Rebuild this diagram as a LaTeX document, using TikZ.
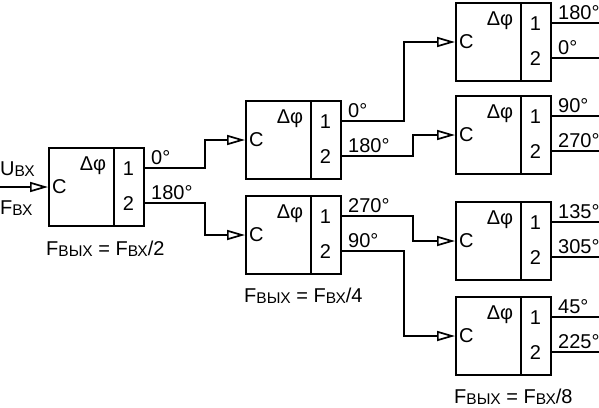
\documentclass[tikz,border=0pt]{standalone}
\usepackage{fontspec}
\setmainfont{Liberation Sans}
\usetikzlibrary{arrows.meta,calc}
\newcommand\subtx[1]{\raisebox{-1.8pt}{\fontsize{15.5}{15.5}\selectfont #1}}
\tikzset{
  blk/.style={draw, line width=2pt, minimum width=95pt, minimum height=78pt, inner sep=0pt, anchor=north west},
  divline/.style={line width=1.2pt},
  conn/.style={line width=1.7pt},
  arr/.style={-{Triangle[open, length=18pt, width=10pt]}},
  txt/.style={inner sep=0pt, font=\fontsize{20}{20}\selectfont},
}
\newcommand\phblock[3]{%
  \node[blk] (#1) at (#2,#3) {};
  \draw[divline] ($(#1.north west)+(66,0)$) -- ($(#1.south west)+(66,0)$);
  \coordinate (#1-in) at ($(#1.north west)+(0,40)$);
  \coordinate (#1-o1) at ($(#1.north east)+(0,21)$);
  \coordinate (#1-o2) at ($(#1.north east)+(0,56)$);
  \node[txt, anchor=west] (#1-c) at ($(#1-in)+(4,0)$) {C};
  \node[txt] (#1-dphi) at ($(#1.north west)+(45,19)$) {Δφ};
  \node[txt] (#1-n1) at ($(#1.north west)+(80.5,22)$) {1};
  \node[txt] (#1-n2) at ($(#1.north west)+(80.5,57)$) {2};
}
\newcommand\olabel[3]{%
  \node[txt, anchor=base west] (#1) at ($(#2)+(6,-4)$) {#3};
}
\begin{document}
\begin{tikzpicture}[x=1pt,y=-1pt]
\useasboundingbox (0,0) rectangle (599,407);
\phblock{b1}{48}{147}
\phblock{b2}{245}{100}
\phblock{b3}{245}{195}
\phblock{b4}{455}{2}
\phblock{b5}{455}{95}
\phblock{b6}{455}{201}
\phblock{b7}{455}{296}
% input
\coordinate (src) at ($(b1-in)+(-48,0)$);
\draw[conn, arr] (src) -- (b1-in);
\node[txt, anchor=base west] (ubx) at (0,175) {U\subtx{ВХ}};
\node[txt, anchor=base west] (fbx) at (0,214) {F\subtx{ВХ}};
% connectors
\draw[conn, arr] (b1-o1) -| ($(b2-in)+(-40,0)$) -- (b2-in);
\draw[conn, arr] (b1-o2) -| ($(b3-in)+(-40,0)$) -- (b3-in);
\draw[conn, arr] (b2-o1) -| ($(b4-in)+(-51,0)$) -- (b4-in);
\draw[conn, arr] (b2-o2) -| ($(b5-in)+(-42,0)$) -- (b5-in);
\draw[conn, arr] (b3-o1) -| ($(b6-in)+(-42,0)$) -- (b6-in);
\draw[conn, arr] (b3-o2) -| ($(b7-in)+(-51,0)$) -- (b7-in);
% outputs
\foreach \b in {b4,b5,b6,b7}{
  \coordinate (\b-e1) at ($(\b-o1)+(51,0)$);
  \coordinate (\b-e2) at ($(\b-o2)+(51,0)$);
  \draw[conn] (\b-o1) -- (\b-e1);
  \draw[conn] (\b-o2) -- (\b-e2);
}
% labels
\olabel{l11}{b1-o1}{0°}
\olabel{l12}{b1-o2}{180°}
\olabel{l21}{b2-o1}{0°}
\olabel{l22}{b2-o2}{180°}
\olabel{l31}{b3-o1}{270°}
\olabel{l32}{b3-o2}{90°}
\olabel{l41}{b4-o1}{180°}
\olabel{l42}{b4-o2}{0°}
\olabel{l51}{b5-o1}{90°}
\olabel{l52}{b5-o2}{270°}
\olabel{l61}{b6-o1}{135°}
\olabel{l62}{b6-o2}{305°}
\olabel{l71}{b7-o1}{45°}
\olabel{l72}{b7-o2}{225°}
% formulas
\node[txt, anchor=base west] (f1) at (46,255) {F\subtx{ВЫХ} = F\subtx{ВХ}/2};
\node[txt, anchor=base west] (f2) at (244,302) {F\subtx{ВЫХ} = F\subtx{ВХ}/4};
\node[txt, anchor=base west] (f3) at (454,403) {F\subtx{ВЫХ} = F\subtx{ВХ}/8};
\end{tikzpicture}
\end{document}
